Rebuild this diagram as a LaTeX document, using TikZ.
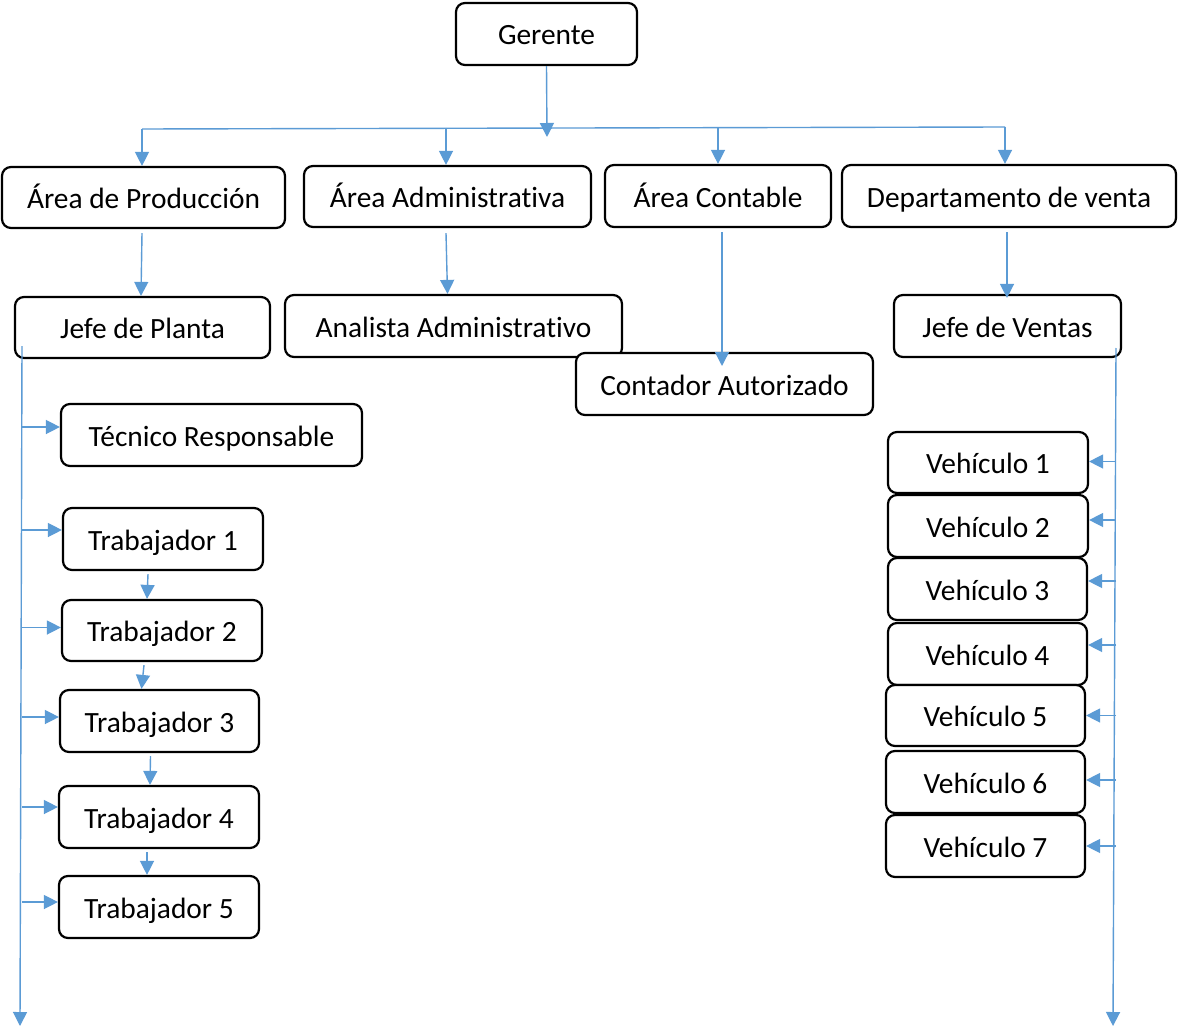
\documentclass[tikz,border=0pt]{standalone}
\usepackage{fontspec}
\setmainfont[Ligatures=NoCommon]{Carlito}
\usetikzlibrary{arrows.meta}
\definecolor{lblue}{HTML}{5B9BD5}
\begin{document}
\begin{tikzpicture}[x=1pt,y=-1pt,
  box/.style={draw=black, line width=2.2pt, rounded corners=9pt, fill=white,
    inner sep=0pt, text height=22pt, text depth=0pt, font=\fontsize{29.4}{34}\selectfont},
  conn/.style={draw=lblue, line width=1.4pt},
  arr/.style={conn, -{Triangle[length=14pt,width=14pt]}},
]
\useasboundingbox (0,0) rectangle (1178,1030);
\fill[white] (0,0) rectangle (1178,1030);
% boxes (center x, center y, width, height)
\node[box, minimum width=181pt, minimum height=62pt] (ger) at (546.5,34) {Gerente};
\node[box, minimum width=283pt, minimum height=61pt] (prod) at (143.5,197.5) {Área de Producción};
\node[box, minimum width=287pt, minimum height=61pt] (adm) at (447.5,196.5) {Área Administrativa};
\node[box, minimum width=226pt, minimum height=62pt] (cont) at (718,196) {Área Contable};
\node[box, minimum width=334pt, minimum height=62pt] (dep) at (1009,196) {Departamento de venta};
\node[box, minimum width=255pt, minimum height=61pt] (jp) at (142.5,327.5) {Jefe de Planta};
\node[box, minimum width=337pt, minimum height=62pt] (ana) at (453.5,326) {Analista Administrativo};
\node[box, minimum width=297pt, minimum height=62pt] (ca) at (724.5,384) {Contador Autorizado};
\node[box, minimum width=227pt, minimum height=62pt] (jv) at (1007.5,326) {Jefe de Ventas};
\node[box, minimum width=301pt, minimum height=62pt] (tec) at (211.5,435) {Técnico Responsable};
\node[box, minimum width=200pt, minimum height=62pt] (t1) at (163,539) {Trabajador 1};
\node[box, minimum width=200pt, minimum height=61pt] (t2) at (162,630.5) {Trabajador 2};
\node[box, minimum width=199pt, minimum height=62pt] (t3) at (159.5,721) {Trabajador 3};
\node[box, minimum width=200pt, minimum height=62pt] (t4) at (159,817) {Trabajador 4};
\node[box, minimum width=200pt, minimum height=62pt] (t5) at (159,907) {Trabajador 5};
\node[box, minimum width=200pt, minimum height=61pt] (v1) at (988,462.5) {Vehículo 1};
\node[box, minimum width=200pt, minimum height=62pt] (v2) at (988,526) {Vehículo 2};
\node[box, minimum width=199pt, minimum height=62pt] (v3) at (987.5,589) {Vehículo 3};
\node[box, minimum width=199pt, minimum height=62pt] (v4) at (987.5,654) {Vehículo 4};
\node[box, minimum width=199pt, minimum height=61pt] (v5) at (985.5,715.5) {Vehículo 5};
\node[box, minimum width=199pt, minimum height=62pt] (v6) at (985.5,782) {Vehículo 6};
\node[box, minimum width=199pt, minimum height=62pt] (v7) at (985.5,846) {Vehículo 7};
% bus coordinates
\coordinate (gtip) at (547,137);
\coordinate (b1) at (142,129);
\coordinate (b2) at (446,128);
\coordinate (b3) at (718,128);
\coordinate (b4) at (1005,127);
\coordinate (catip) at (722,366);
\coordinate (lt) at (22,346);
\coordinate (lb) at (20,1026);
\coordinate (rt) at (1116,348);
\coordinate (rb) at (1113,1026);
% connectors
\draw[arr] (ger.south) -- (gtip);
\draw[conn] (b1) -- (b4);
\draw[arr] (b1) -- (b1 |- prod.north);
\draw[arr] (b2) -- (b2 |- adm.north);
\draw[arr] (b3) -- (b3 |- cont.north);
\draw[arr] (b4) -- (b4 |- dep.north);
\draw[arr] ([xshift=-1.5pt,yshift=-4pt]prod.south) -- ([xshift=-1.5pt]jp.north);
\draw[arr] ([xshift=-1.5pt,yshift=-5pt]adm.south) -- (adm.south |- ana.north);
\draw[arr] ([xshift=4pt,yshift=-4pt]cont.south) -- (catip);
\draw[arr] ([xshift=-2pt,yshift=-4pt]dep.south) -- ([xshift=-2pt,yshift=-4pt]dep.south |- jv.north);
% left trunk
\draw[arr] (lt) -- (lb);
\draw[arr] ([yshift=8pt]tec.west -| lt) -- ([yshift=8pt]tec.west);
\draw[arr] ([yshift=9pt]t1.west -| lt) -- ([yshift=9pt]t1.west);
\draw[arr] ([yshift=3pt]t2.west -| lt) -- ([yshift=3pt]t2.west);
\draw[arr] ([yshift=4pt]t3.west -| lt) -- ([yshift=4pt]t3.west);
\draw[arr] ([yshift=10pt]t4.west -| lt) -- ([yshift=10pt]t4.west);
\draw[arr] ([yshift=5pt]t5.west -| lt) -- ([yshift=5pt]t5.west);
\draw[arr] ([xshift=-15pt,yshift=-3pt]t1.south) -- ([xshift=-15pt]t2.north);
\draw[arr] ([xshift=-18pt,yshift=-3pt]t2.south) -- ([xshift=-18pt]t3.north);
\draw[arr] ([xshift=-9pt,yshift=-3pt]t3.south) -- ([xshift=-9pt]t4.north);
\draw[arr] ([xshift=-12pt,yshift=-3pt]t4.south) -- ([xshift=-12pt]t5.north);
% right trunk
\draw[arr] (rt) -- (rb);
\draw[arr] ([yshift=1pt]v1.east -| rt) -- ([yshift=1pt]v1.east);
\draw[arr] ([yshift=6pt]v2.east -| rt) -- ([yshift=6pt]v2.east);
\draw[arr] ([yshift=8pt]v3.east -| rt) -- ([yshift=8pt]v3.east);
\draw[arr] ([yshift=9pt]v4.east -| rt) -- ([yshift=9pt]v4.east);
\draw[arr] (v5.east -| rt) -- (v5.east);
\draw[arr] ([yshift=2pt]v6.east -| rt) -- ([yshift=2pt]v6.east);
\draw[arr] (v7.east -| rt) -- (v7.east);
\end{tikzpicture}
\end{document}
